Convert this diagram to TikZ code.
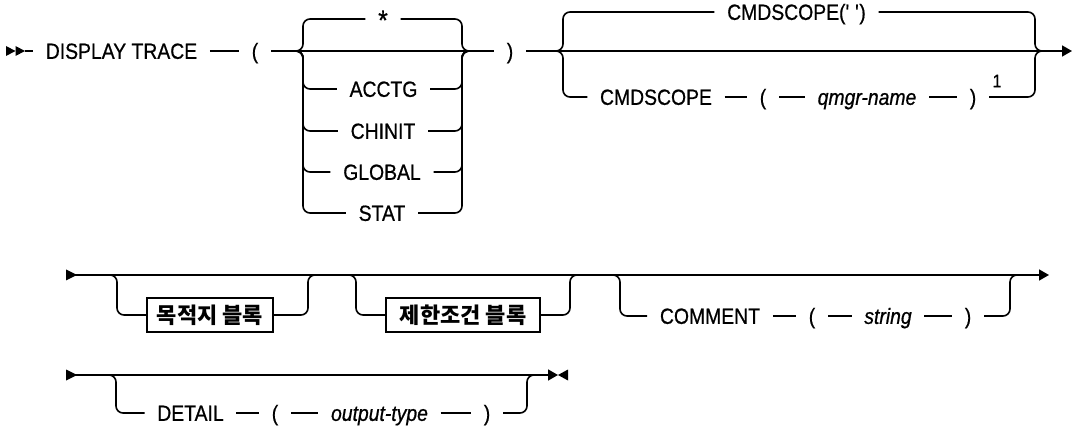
\documentclass[tikz,border=0pt]{standalone}
\usepackage{fontspec}
\setmainfont{Liberation Sans}[FakeStretch=0.88,FakeBold=0.7]
\newfontfamily\kr{Noto Sans CJK KR}
\usetikzlibrary{arrows.meta}
\tikzset{
  rc/.style={rounded corners=7pt},
  lbl/.style={inner xsep=12pt, inner ysep=0pt, text height=15.7pt, text depth=0pt, font=\fontsize{22}{25}\selectfont},
  kbox/.style={draw, line width=1.6pt, inner xsep=6pt, inner ysep=0pt, minimum height=34pt, text height=16.5pt, text depth=0pt, font=\kr\bfseries\fontsize{22}{25}\selectfont},
  tip/.style={-{Triangle[length=10pt,width=11pt]}}
}
\begin{document}
\begin{tikzpicture}[x=1pt,y=-1pt,line width=1.6pt]
\useasboundingbox (0,0) rectangle (1073,427);
% ---------- row 1 ----------
\coordinate (s1) at (25,51);
\fill (s1) ++(-19,-5) -- ++(9.5,5) -- ++(-9.5,5) -- cycle;
\fill (s1) ++(-9.5,-5) -- ++(9.5,5) -- ++(-9.5,5) -- cycle;
\node[lbl] (disp) at (121.5,51) {DISPLAY TRACE};
\node[lbl] (lp1) at (255,51) {(};
\coordinate (j1) at (296,51);
\coordinate (b1l) at (303,51);
\node[lbl, font=\fontsize{28}{30}\selectfont] (star) at (383,22) {*};
\node[lbl] (acctg) at (383.5,89) {ACCTG};
\node[lbl] (chinit) at (383,131) {CHINIT};
\node[lbl] (global) at (382,172) {GLOBAL};
\node[lbl] (stat) at (382,213) {STAT};
\coordinate (b1r) at (462,51);
\coordinate (j2) at (469,51);
\node[lbl] (rp1) at (510,51) {)};
\coordinate (j3) at (555,51);
\coordinate (b2l) at (563,51);
\node[lbl] (cmdq) at (796.5,12) {CMDSCOPE(\textquotesingle\ \textquotesingle)};
\node[lbl] (cmd2) at (656,97) {CMDSCOPE};
\node[lbl] (lp2) at (763,97) {(};
\node[lbl] (qmgr) at (867,97) {\itshape qmgr-name};
\node[lbl] (rp2) at (973,97) {)};
\node[font=\fontsize{18}{20}\selectfont] (sup1) at (997,81) {1};
\coordinate (b2r) at (1035,51);
\coordinate (j4) at (1042,51);
\coordinate (e1) at (1072,51);

\draw (s1) -- (disp.west);
\draw (disp.east) -- (lp1.west);
\draw (lp1.east) -- (rp1.west);
\draw[tip] (rp1.east) -- (e1);
\draw[rc] (j1) -| (b1l |- 0,19) -- (star.west |- 0,19);
\draw[rc] (star.east |- 0,19) -| (b1r) -- (j2);
\foreach \n in {acctg,chinit,global,stat}{
  \draw[rc] (j1) -| (b1l |- \n.west) -- (\n.west);
  \draw[rc] (\n.east) -| (b1r) -- (j2);
}
\draw[rc] (j3) -| (b2l |- cmdq.west) -- (cmdq.west);
\draw[rc] (cmdq.east) -| (b2r) -- (j4);
\draw[rc] (j3) -| (b2l |- cmd2.west) -- (cmd2.west);
\draw (cmd2.east) -- (lp2.west);
\draw (lp2.east) -- (qmgr.west);
\draw (qmgr.east) -- (rp2.west);
\draw[rc] (rp2.east) -| (b2r) -- (j4);

% ---------- row 2 ----------
\coordinate (s2) at (66,275);
\fill (s2) ++(0,-5.5) -- ++(11,5.5) -- ++(-11,5.5) -- cycle;
\coordinate (e2) at (1049,275);
\draw[tip] (s2) -- (e2);
\coordinate (a1) at (107,275);
\coordinate (a1v) at (117,275);
\node[kbox, minimum width=126pt] (boxA) at (210,315) {목적지 블록};
\coordinate (aR) at (308,275);
\coordinate (a2) at (317,275);
\draw[rc] (a1) -| (a1v |- boxA.west) -- (boxA.west);
\draw[rc] (boxA.east) -| (aR) -- (a2);
\coordinate (b1) at (348,275);
\coordinate (b1v) at (356,275);
\node[kbox, minimum width=154pt] (boxB) at (463,315) {제한조건 블록};
\coordinate (bR) at (570,275);
\coordinate (b2) at (578,275);
\draw[rc] (b1) -| (b1v |- boxB.west) -- (boxB.west);
\draw[rc] (boxB.east) -| (bR) -- (b2);
\coordinate (c1) at (611,275);
\coordinate (c1v) at (620,275);
\node[lbl] (comment) at (710,316) {COMMENT};
\node[lbl] (lp3) at (812,316) {(};
\node[lbl] (string) at (888,316) {\itshape string};
\node[lbl] (rp3) at (968,316) {)};
\coordinate (cR) at (1010,275);
\coordinate (c2) at (1018,275);
\draw[rc] (c1) -| (c1v |- comment.west) -- (comment.west);
\draw (comment.east) -- (lp3.west);
\draw (lp3.east) -- (string.west);
\draw (string.east) -- (rp3.west);
\draw[rc] (rp3.east) -| (cR) -- (c2);

% ---------- row 3 ----------
\coordinate (s3) at (66,375);
\fill (s3) ++(0,-5.5) -- ++(11,5.5) -- ++(-11,5.5) -- cycle;
\coordinate (e3) at (558,375);
\draw[tip] (s3) -- (e3);
\fill (e3) -- ++(10,-5.5) -- ++(0,11) -- cycle;
\coordinate (d1) at (107,375);
\coordinate (d1v) at (116,375);
\node[lbl] (detail) at (190.5,413) {DETAIL};
\node[lbl] (lp4) at (275,413) {(};
\node[lbl] (otype) at (379.5,413) {\itshape output-type};
\node[lbl] (rp4) at (487,413) {)};
\coordinate (dR) at (527,375);
\coordinate (d2) at (536,375);
\draw[rc] (d1) -| (d1v |- detail.west) -- (detail.west);
\draw (detail.east) -- (lp4.west);
\draw (lp4.east) -- (otype.west);
\draw (otype.east) -- (rp4.west);
\draw[rc] (rp4.east) -| (dR) -- (d2);
\end{tikzpicture}
\end{document}
